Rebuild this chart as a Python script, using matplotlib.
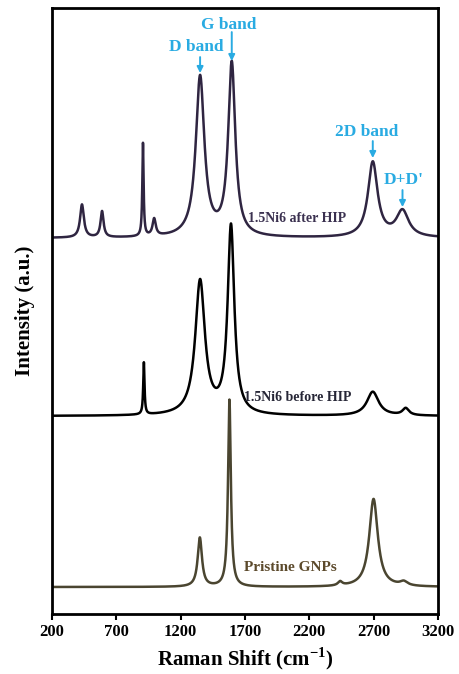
import numpy as np
import matplotlib
matplotlib.use("Agg")
import matplotlib.pyplot as plt

plt.rcParams["font.family"] = ["Liberation Serif", "DejaVu Serif"]
plt.rcParams["font.weight"] = "bold"
plt.rcParams["mathtext.fontset"] = "custom"
plt.rcParams["mathtext.rm"] = "Liberation Serif:bold"
plt.rcParams["mathtext.bf"] = "Liberation Serif:bold"

# Peak tables: position (cm-1), height (a.u.), FWHM (cm-1)
after_base = 376
after_pos = [434, 590, 908, 995, 1352, 1598, 2694, 2925]
after_height = [33, 26, 93, 17, 160, 173, 75, 26]
after_fwhm = [35, 28, 12, 30, 80, 66, 90, 115]

before_base = 198
before_pos = [915, 1352, 1592, 2694, 2950]
before_height = [52, 134, 188, 24, 7]
before_fwhm = [12, 90, 62, 110, 60]

pristine_base = 27
pristine_pos = [1350, 1580, 2440, 2700, 2935]
pristine_height = [49, 187, 4, 88, 4]
pristine_fwhm = [40, 26, 40, 80, 70]

labels = ["1.5Ni6 after HIP", "1.5Ni6 before HIP", "Pristine GNPs"]
line_colors = ["#2f2541", "#000000", "#4a4530"]
text_colors = ["#3b3150", "#262636", "#5c4a2c"]

bands = ["D band", "G band", "2D band", "D+D'"]
band_pos = [1352, 1598, 2694, 2925]

x = np.linspace(200, 3200, 3001)


def spectrum(base, pos, height, fwhm):
    y = np.full_like(x, base, dtype=float)
    for p, h, w in zip(pos, height, fwhm):
        y += h / (1 + ((x - p) / (w / 2)) ** 2)
    return y


fig = plt.figure(figsize=(4.59, 6.74), dpi=100)
ax = fig.add_axes([0.113, 0.089, 0.841, 0.899])

series = [
    spectrum(after_base, after_pos, after_height, after_fwhm),
    spectrum(before_base, before_pos, before_height, before_fwhm),
    spectrum(pristine_base, pristine_pos, pristine_height, pristine_fwhm),
]
for y, c in zip(series, line_colors):
    ax.plot(x, y, color=c, lw=1.8)

# sample labels
ax.text(1725, 396, labels[0], color=text_colors[0], fontsize=10, va="center")
ax.text(1690, 217, labels[1], color=text_colors[1], fontsize=10, va="center")
ax.text(1690, 47, labels[2], color=text_colors[2], fontsize=11, va="center")

# band annotations
blue = "#29abe2"
ann_text_x = [1320, 1575, 2650, 2935]
ann_text_y = [567, 589, 482, 434]
ann_arrow = [(557, 541), (582, 553), (473, 456), (424, 407)]
for name, p, tx, ty, (a0, a1) in zip(bands, band_pos, ann_text_x, ann_text_y, ann_arrow):
    ax.text(tx, ty, name, color=blue, fontsize=12.5, ha="center", va="center")
    ax.annotate("", xy=(p, a1), xytext=(p, a0),
                arrowprops=dict(arrowstyle="-|>", color=blue, lw=1.4,
                                mutation_scale=9, shrinkA=0, shrinkB=0))

ax.set_xlim(200, 3200)
ax.set_ylim(0, 606)
ax.set_xticks([200, 700, 1200, 1700, 2200, 2700, 3200])
ax.set_yticks([])
ax.tick_params(axis="x", direction="out", length=4, width=1.5, labelsize=12,
               pad=3)
for s in ax.spines.values():
    s.set_linewidth(2)
ax.set_xlabel("Raman Shift (cm$^{-1}$)", fontsize=15, fontweight="bold",
              labelpad=4)
ax.set_ylabel("Intensity (a.u.)", fontsize=15, fontweight="bold", labelpad=12)

fig.savefig("out.png", dpi=100)
